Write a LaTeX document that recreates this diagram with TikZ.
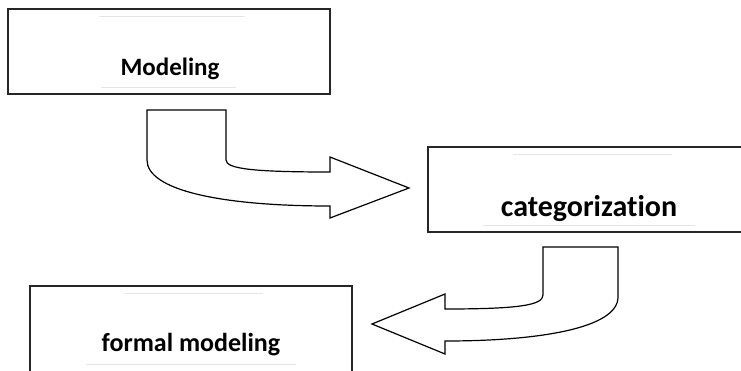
\documentclass[tikz,border=0pt]{standalone}
\usepackage{fontspec}
\setmainfont[Ligatures=NoCommon]{Carlito}
\begin{document}
\begin{tikzpicture}[x=1pt,y=-1pt,
  box/.style={draw=black!85,line width=1.3pt,fill=white,rectangle,inner sep=0pt},
  faint/.style={draw=black!10,line width=0.8pt},
  blockarrow/.style={draw=black,line width=1.2pt,fill=white,line join=miter},
  lbl/.style={anchor=base,font=\bfseries,inner sep=0pt}]
\useasboundingbox (0,0) rectangle (741,370);
\clip (0,0) rectangle (741,370);
% boxes
\node[box,minimum width=322pt,minimum height=85pt] (b1) at (169,51.5) {};
\node[box,minimum width=332pt,minimum height=85pt] (b2) at (594,189.5) {};
\node[box,minimum width=322pt,minimum height=114pt] (b3) at (191,343) {};
% faint lines
\draw[faint] (99,16) -- (245,16);
\draw[faint] (101,87) -- (236,87);
\draw[faint] (513,154) -- (672,154);
\draw[faint] (483,225) -- (695,225);
\draw[faint] (125,293) -- (263,293);
\draw[faint] (86,364) -- (296,364);
% labels
\node[lbl,font=\fontsize{25}{30}\selectfont\bfseries] (m) at (170,75) {Modeling};
\node[lbl,font=\fontsize{30}{36}\selectfont\bfseries] (c) at (589,216) {categorization};
\node[lbl,font=\fontsize{26}{31}\selectfont\bfseries] (f) at (191,351) {formal modeling};
% arrow 1
\draw[blockarrow] (147,110) -- (226,110) -- (226,160)
  .. controls (226,169) and (255,172) .. (330,172)
  -- (330,157) -- (409,188) -- (330,218) -- (330,206)
  .. controls (220,206) and (147,190) .. (147,160) -- cycle;
% arrow 2
\draw[blockarrow] (543,247) -- (618,247) -- (618,297)
  .. controls (618,328) and (540,341) .. (445,341)
  -- (445,354) -- (372,324) -- (445,294) -- (445,309)
  .. controls (520,309) and (543,305) .. (543,295) -- cycle;
\end{tikzpicture}
\end{document}
